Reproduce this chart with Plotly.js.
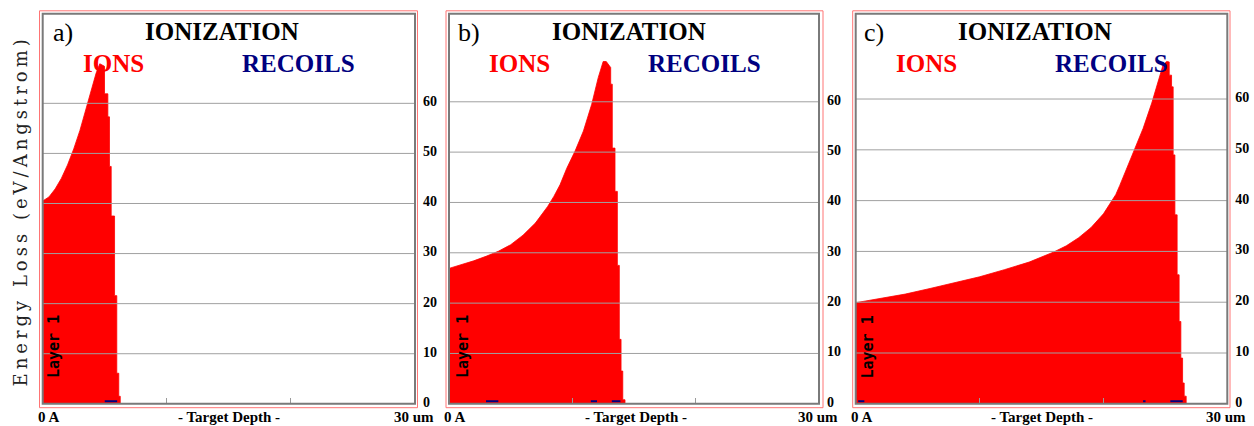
<!DOCTYPE html>
<html>
<head>
<meta charset="utf-8">
<script src="https://cdn.plot.ly/plotly-3.0.1.min.js"></script>
<style>
  html, body { margin: 0; padding: 0; background: #ffffff; }
  #chart { width: 1254px; height: 426px; }
</style>
</head>
<body>
<div id="chart"></div>
<script>
// Ionization energy loss (eV/Angstrom) versus target depth for three ion ranges.

// ---- labels and ticks ----
const panelLabels = ['a)', 'b)', 'c)'];
const plotTitle = 'IONIZATION';
const ionsLabel = 'IONS';
const recoilsLabel = 'RECOILS';
const layerLabel = 'Layer 1';
const depthStartLabel = '0 A';
const depthEndLabel = '30 um';
const depthAxisLabel = '- Target Depth -';
const lossAxisLabel = 'Energy Loss (eV/Angstrom)';
const lossTicks = [0, 10, 20, 30, 40, 50, 60];
const depthTicks = [10, 20];
const depthRange = [0, 30];

// ---- ions: depth (um) and energy loss (eV/A); repeated depths are bin edges ----
const ionsDepthA = [0, 0.5, 1.0, 1.5, 2.0, 2.5, 3.0, 3.5, 4.0, 4.3, 4.6, 4.98, 4.98, 5.25, 5.25,
  5.38, 5.38, 5.52, 5.52, 5.79, 5.79, 5.97, 5.97, 6.13, 6.13, 6.25, 6.25];
const ionsLossA = [40.5, 41.3, 42.9, 45.0, 47.7, 50.9, 54.6, 58.8, 63.4, 66.0, 67.9, 67.4, 61.9, 61.9, 57.3,
  57.3, 47.4, 47.4, 37.5, 37.5, 21.6, 21.6, 6.1, 6.1, 1.5, 1.5, 0];

const ionsDepthB = [0, 1, 2, 3, 4, 5, 6, 7, 8, 8.5, 9.0, 9.55, 10.22, 10.9, 11.57, 12.1, 12.5, 12.75,
  13.11, 13.11, 13.24, 13.24, 13.46, 13.46, 13.65, 13.65, 13.81, 13.81, 13.95, 13.95, 14.09, 14.09, 14.27, 14.27];
const ionsLossB = [26.9, 27.6, 28.4, 29.3, 30.3, 31.6, 33.5, 35.9, 39.2, 41.2, 43.5, 46.8, 50.2, 54.2, 59.5, 64.8, 68.0, 68.0,
  66.8, 63.5, 63.5, 50.8, 50.8, 42.2, 42.2, 27.5, 27.5, 12.8, 12.8, 6.5, 6.5, 0.8, 0.8, 0];

const ionsDepthC = [0, 2, 4, 6, 8, 10, 12, 14, 16, 17, 18, 19, 20, 21, 21.32, 21.86, 22.5, 23.2, 23.9, 24.4, 24.8, 25.1,
  25.31, 25.31, 25.5, 25.5, 25.63, 25.63, 25.77, 25.77, 25.95, 25.95, 26.11, 26.11, 26.25, 26.25, 26.39, 26.39,
  26.52, 26.52, 26.68, 26.68];
const ionsLossC = [19.9, 20.7, 21.6, 22.7, 23.8, 25.0, 26.4, 27.9, 29.9, 31.1, 32.7, 34.7, 37.4, 41.2, 43.0, 46.3, 49.9, 54.2, 59.2, 63.6, 66.6, 67.4,
  67.3, 64.7, 64.7, 62.4, 62.4, 49.0, 49.0, 37.2, 37.2, 25.4, 25.4, 16.2, 16.2, 9.0, 9.0, 4.1,
  4.1, 1.5, 1.5, 0];

// ---- recoils: small contributions near zero (null breaks segments) ----
const recoilDepthA = [5.0, 6.0];
const recoilLossA = [0.5, 0.5];
const recoilDepthB = [3.0, 4.0, 4.0, 11.5, 12.0, 12.0, 13.2, 13.9];
const recoilLossB = [0.5, 0.5, null, 0.5, 0.5, null, 0.5, 0.5];
const recoilDepthC = [0.2, 0.7, 0.7, 23.2, 23.4, 23.4, 25.4, 26.4];
const recoilLossC = [0.5, 0.5, null, 0.5, 0.5, null, 0.5, 0.5];

const ionsDepth = [ionsDepthA, ionsDepthB, ionsDepthC];
const ionsLoss = [ionsLossA, ionsLossB, ionsLossC];
const recoilDepth = [recoilDepthA, recoilDepthB, recoilDepthC];
const recoilLoss = [recoilLossA, recoilLossB, recoilLossC];

// ---- page geometry (pixels) ----
const W = 1254, H = 426;
const plotTop = 13.7, plotBottom = 403.8;
const redTop = 10.8, redBottom = 407.7;
const frames = [
  { left: 42.7, right: 415.0, redLeft: 39.5, redRight: 417.5, lossMax: 77.9, labelX: 51.5, layerX: 54.0 },
  { left: 449.0, right: 819.0, redLeft: 446.0, redRight: 823.0, lossMax: 77.5, labelX: 456.5, layerX: 463.0 },
  { left: 855.7, right: 1227.3, redLeft: 852.7, redRight: 1230.0, lossMax: 76.8, labelX: 863.0, layerX: 867.5 }
];
const px = x => x / W;
const py = y => 1 - y / H;

const serif = 'Liberation Serif, Times New Roman, serif';
const traces = [];
const shapes = [];
const annotations = [];
const layout = {
  width: W, height: H,
  margin: { l: 0, r: 0, t: 0, b: 0 },
  paper_bgcolor: '#ffffff',
  plot_bgcolor: '#ffffff',
  showlegend: false,
  shapes: shapes,
  annotations: annotations
};

frames.forEach((f, i) => {
  const sfx = i === 0 ? '' : String(i + 1);
  const xName = 'x' + sfx, yName = 'y' + sfx;

  traces.push({
    type: 'scatter', mode: 'lines',
    x: ionsDepth[i], y: ionsLoss[i],
    xaxis: xName, yaxis: yName,
    fill: 'tozeroy', fillcolor: '#ff0000',
    line: { color: '#ff0000', width: 0.8 },
    hoverinfo: 'skip'
  });
  traces.push({
    type: 'scatter', mode: 'lines',
    x: recoilDepth[i], y: recoilLoss[i],
    xaxis: xName, yaxis: yName,
    connectgaps: false,
    line: { color: '#000080', width: 2 },
    hoverinfo: 'skip'
  });

  layout['xaxis' + sfx] = {
    domain: [px(f.left), px(f.right)],
    anchor: yName,
    range: depthRange,
    tickvals: depthTicks,
    ticks: 'inside', ticklen: 6, tickwidth: 1, tickcolor: '#9a9a9a',
    showticklabels: false, showgrid: false, zeroline: false, showline: false,
    fixedrange: true
  };
  layout['yaxis' + sfx] = {
    domain: [py(plotBottom), py(plotTop)],
    anchor: xName,
    side: 'right',
    range: [0, f.lossMax],
    tickvals: lossTicks,
    ticks: '', ticklabelstandoff: 7, ticklabelshift: -2,
    tickfont: { family: serif, size: 14, color: '#000000', weight: 'bold' },
    showgrid: false, zeroline: false, showline: false,
    fixedrange: true
  };

  // horizontal grid drawn over the histogram
  lossTicks.filter(t => t > 0).forEach(t => {
    shapes.push({
      type: 'line', layer: 'above',
      xref: xName + ' domain', yref: yName,
      x0: 0, x1: 1, y0: t, y1: t,
      line: { color: '#a0a0a0', width: 1 }
    });
  });
  // frame: grey inner border and thin red outer border
  shapes.push({
    type: 'rect', layer: 'above', xref: 'paper', yref: 'paper',
    x0: px(f.left), x1: px(f.right), y0: py(plotBottom), y1: py(plotTop),
    line: { color: '#7a7a7a', width: 2 }, fillcolor: 'rgba(0,0,0,0)'
  });
  shapes.push({
    type: 'rect', layer: 'above', xref: 'paper', yref: 'paper',
    x0: px(f.redLeft), x1: px(f.redRight), y0: py(redBottom), y1: py(redTop),
    line: { color: '#ff7474', width: 1 }, fillcolor: 'rgba(0,0,0,0)'
  });

  const note = (text, x, y, opts) => annotations.push(Object.assign({
    text: text, xref: 'paper', yref: 'paper', x: px(x), y: py(y),
    xanchor: 'center', yanchor: 'middle', showarrow: false, borderpad: 0
  }, opts));

  note(panelLabels[i], f.labelX, 32.5, { xanchor: 'left', font: { family: serif, size: 26, color: '#000000' } });
  note(plotTitle, f.left + 179.5, 31, { font: { family: serif, size: 25, color: '#000000', weight: 'bold' } });
  note(ionsLabel, f.left + 70.8, 64, { font: { family: serif, size: 25, color: '#ff0000', weight: 'bold' } });
  note(recoilsLabel, f.left + 255.3, 64, { font: { family: serif, size: 25, color: '#000080', weight: 'bold' } });
  note(layerLabel, f.layerX, 347, { textangle: -90, font: { family: 'DejaVu Sans Mono, monospace', size: 15, color: '#000000', weight: 'bold' } });
  note(depthStartLabel, f.left - 6, 416.5, { xanchor: 'left', font: { family: serif, size: 15, color: '#000000', weight: 'bold' } });
  note(depthAxisLabel, f.left + 186.5, 416.5, { font: { family: serif, size: 15, color: '#000000', weight: 'bold' } });
  note(depthEndLabel, f.right - 22, 416.5, { xanchor: 'left', font: { family: serif, size: 15, color: '#000000', weight: 'bold' } });
});

// shared vertical axis title at the far left (letter-spaced slab serif)
annotations.push({
  text: lossAxisLabel, xref: 'paper', yref: 'paper', x: px(20.5), y: py(211),
  xanchor: 'center', yanchor: 'middle', showarrow: false, textangle: -90,
  font: { family: 'DejaVu Serif, serif', size: 18, color: '#222222' }
});

Plotly.newPlot('chart', traces, layout, { staticPlot: true, displayModeBar: false }).then(gd => {
  gd.querySelectorAll('.annotation-text').forEach(el => {
    if (el.textContent === lossAxisLabel) {
      el.style.letterSpacing = '4px';
      el.style.fontWeight = '300';
    }
  });
});
</script>
</body>
</html>
